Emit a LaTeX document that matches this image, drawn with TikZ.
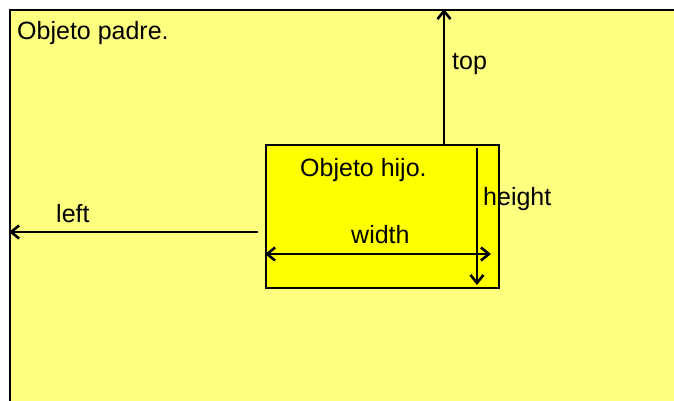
\documentclass[tikz,border=0pt]{standalone}
\usepackage{fontspec}
\setmainfont{Liberation Sans}
\usetikzlibrary{arrows.meta}
\definecolor{padrebg}{HTML}{FFFF80}
\definecolor{hijobg}{HTML}{FFFF00}
\begin{document}
\begin{tikzpicture}[x=1pt,y=-1pt,
  lbl/.style={font=\fontsize{25}{30}\selectfont, inner sep=0pt, anchor=base west},
  tipstyle/.tip={Straight Barb[length=8pt,width=13pt,line width=2.6pt]},
  arr/.style={line width=2pt, -tipstyle},
  darr/.style={line width=2pt, tipstyle-tipstyle},
  boxstyle/.style={draw, line width=2pt, anchor=north west, inner sep=0pt}
]
\useasboundingbox (0,0) rectangle (674,401);
\clip (0,0) rectangle (674,401);
\fill[white] (0,0) rectangle (674,401);
\node[boxstyle, fill=padrebg, minimum width=720pt, minimum height=440pt] (padre) at (9,9) {};
\node[boxstyle, fill=hijobg, minimum width=233pt, minimum height=143pt] (hijo) at (265,144) {};
% arrows
\coordinate (topx) at (444,0);
\draw[arr] (hijo.north -| topx) -- (padre.north -| topx);
\coordinate (leftstart) at (258,232);
\draw[arr] (leftstart) -- (leftstart -| padre.west);
\coordinate (wl) at (265,254);
\coordinate (wr) at (491,254);
\draw[darr] (wl) -- (wr);
\coordinate (ht) at (477,148);
\coordinate (hb) at (477,285);
\draw[arr] (ht) -- (hb);
% labels
\node[lbl] (tpadre) at (17,40) {Objeto padre.};
\node[lbl] (ttop) at (452,70) {top};
\node[lbl] (thijo) at (300,176) {Objeto hijo.};
\node[lbl] (theight) at (483,205) {height};
\node[lbl] (twidth) at (351,243) {width};
\node[lbl] (tleft) at (56,222) {left};
\end{tikzpicture}
\end{document}
